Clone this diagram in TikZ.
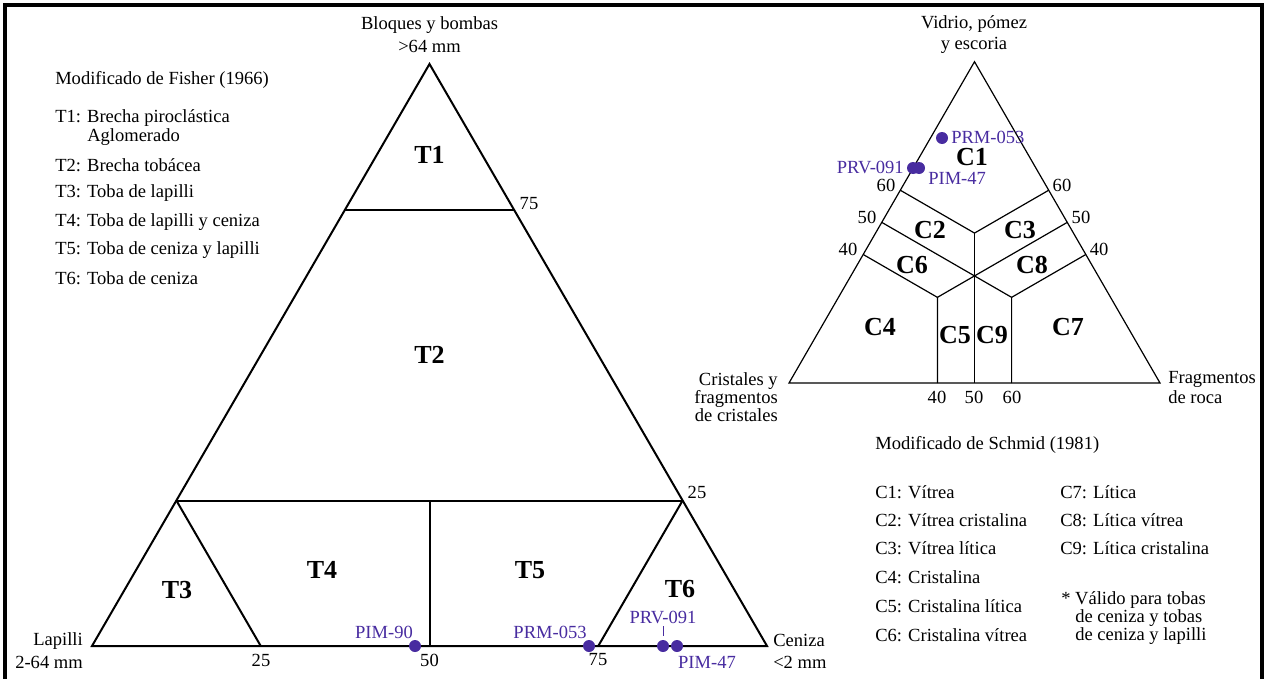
\documentclass[tikz,border=0pt]{standalone}
\usepackage{fontspec}
\setmainfont{Liberation Serif}
\usetikzlibrary{calc}
\definecolor{pur}{RGB}{72,44,160}
\begin{document}
\begin{tikzpicture}[x=0.75pt,y=-0.75pt,
  txt/.style={font=\fontsize{13.9}{14}\selectfont, inner sep=0pt},
  lab/.style={font=\bfseries\fontsize{19.5}{22}\selectfont, inner sep=0pt},
  dat/.style={txt, text=pur},
  dot/.style={circle, fill=pur, minimum size=9pt, inner sep=0pt},
  bigtri/.style={line width=1.5pt, line join=miter},
  smalltri/.style={line width=0.9pt, line join=miter}]
\useasboundingbox (0,0) rectangle (1266,678);
\draw[line width=2.4pt] (5,5) rectangle (1262,720);

% ---------- left triangle (Fisher) ----------
\coordinate (A) at (92,646);
\coordinate (B) at (767,646);
\coordinate (C) at (429.5,64);
\draw[bigtri] (A) -- (B) -- (C) -- cycle;
\coordinate (a75) at ($(A)!0.75!(C)$);
\coordinate (b75) at ($(B)!0.75!(C)$);
\coordinate (a25) at ($(A)!0.25!(C)$);
\coordinate (b25) at ($(B)!0.25!(C)$);
\coordinate (m25) at ($(A)!0.25!(B)$);
\coordinate (m50) at ($(A)!0.50!(B)$);
\coordinate (m75) at ($(A)!0.75!(B)$);
\coordinate (c25) at ($(a25)!0.5!(b25)$);
\draw[bigtri] (a75) -- (b75);
\draw[bigtri] (a25) -- (b25);
\draw[bigtri] (a25) -- (m25);
\draw[bigtri] (b25) -- (m75);
\draw[bigtri] (c25) -- (m50);

\node[txt] (tb1) at (429.5,25) {Bloques y bombas};
\node[txt] (tb2) at (429.5,46) {>64 mm};
\node[txt, anchor=east] (tl1) at (83,641) {Lapilli};
\node[txt, anchor=east] (tl2) at (83,662) {2-64 mm};
\node[txt, anchor=west] (tc1) at (773,640) {Ceniza};
\node[txt, anchor=west] (tc2) at (773,662) {<2 mm};
\node[txt] (n75a) at (529,204) {75};
\node[txt] (n25a) at (697,492) {25};
\node[txt] (n25b) at (261,660) {25};
\node[txt] (n50b) at (429.5,660) {50};
\node[txt] (n75b) at (598,660) {75};

\node[lab] (T1) at (429.5,155) {T1};
\node[lab] (T2) at (429.5,355) {T2};
\node[lab] (T3) at (177,590) {T3};
\node[lab] (T4) at (322,570) {T4};
\node[lab] (T5) at (530,570) {T5};
\node[lab] (T6) at (680,589) {T6};

\node[dot] (d1) at (415,646) {};
\node[dot] (d2) at (589,646) {};
\node[dot] (d3) at (663,646) {};
\node[dot] (d4) at (677,646) {};
\node[dat] (l1) at (384,632) {PIM-90};
\node[dat] (l2) at (550,632) {PRM-053};
\node[dat] (l3) at (663,617) {PRV-091};
\node[dat] (l4) at (707,662) {PIM-47};
\draw[pur, line width=0.6pt] ([yshift=-2pt]l3.south) -- ([yshift=3pt]d3.north);

% legend left
\node[txt, anchor=west] (fl0) at (55,80) {Modificado de Fisher (1966)};
\node[txt, anchor=west] (fl1) at (55,118) {T1: Brecha piroclástica};
\node[txt, anchor=west] (fl1b) at (87,137) {Aglomerado};
\node[txt, anchor=west] (fl2) at (55,165) {T2: Brecha tobácea};
\node[txt, anchor=west] (fl3) at (55,193) {T3: Toba de lapilli};
\node[txt, anchor=west] (fl4) at (55,222) {T4: Toba de lapilli y ceniza};
\node[txt, anchor=west] (fl5) at (55,250) {T5: Toba de ceniza y lapilli};
\node[txt, anchor=west] (fl6) at (55,278) {T6: Toba de ceniza};

% ---------- right triangle (Schmid) ----------
\begin{scope}[shift={(789,383)}, x={(278.25pt,0pt)}, y={(0pt,278.25pt)}]
\coordinate (P) at (0,0);
\coordinate (Q) at (1,0);
\coordinate (R) at (0.5,0.8660);
\coordinate (L60) at (0.30,0.5196);
\coordinate (L50) at (0.25,0.4330);
\coordinate (L40) at (0.20,0.3464);
\coordinate (R60) at (0.70,0.5196);
\coordinate (R50) at (0.75,0.4330);
\coordinate (R40) at (0.80,0.3464);
\coordinate (K) at (0.5,0.4041);
\coordinate (U4) at (0.4,0.2309);
\coordinate (U6) at (0.6,0.2309);
\coordinate (B4) at (0.4,0);
\coordinate (B5) at (0.5,0);
\coordinate (B6) at (0.6,0);
\draw[smalltri] (P) -- (Q) -- (R) -- cycle;
\draw[smalltri] (L60) -- (K) -- (R60);
\draw[smalltri] (K) -- (B5);
\draw[smalltri] (L50) -- (U6) -- (B6);
\draw[smalltri] (R50) -- (U4) -- (B4);
\draw[smalltri] (L40) -- (U4);
\draw[smalltri] (R40) -- (U6);
\end{scope}

\node[txt] (tv1) at (974,24) {Vidrio, pómez};
\node[txt] (tv2) at (974,45) {y escoria};
\node[txt, anchor=east, align=right, font=\fontsize{13.9}{13.5}\selectfont] (tcr) at (778,397) {Cristales y\\fragmentos\\de cristales};
\node[txt, anchor=west, align=left, font=\fontsize{13.9}{15}\selectfont] (tfr) at (1168,388) {Fragmentos\\de roca};

\node[txt] (r60l) at (886,185) {60};
\node[txt] (r50l) at (867,217) {50};
\node[txt] (r40l) at (848,249) {40};
\node[txt] (r60r) at (1062,185) {60};
\node[txt] (r50r) at (1081,217) {50};
\node[txt] (r40r) at (1099,249) {40};
\node[txt] (r40b) at (937,397) {40};
\node[txt] (r50b) at (974,397) {50};
\node[txt] (r60b) at (1012,397) {60};

\node[lab] (C1) at (972,157.5) {C1};
\node[lab] (C2) at (930,230) {C2};
\node[lab] (C3) at (1020,230) {C3};
\node[lab] (C6) at (912,265) {C6};
\node[lab] (C8) at (1032,265) {C8};
\node[lab] (C4) at (880,327) {C4};
\node[lab] (C5) at (955,335) {C5};
\node[lab] (C9) at (992,335) {C9};
\node[lab] (C7) at (1068,327) {C7};

\node[dot] (e1) at (942,138) {};
\node[dot] (e2) at (913,168) {};
\node[dot] (e3) at (919,168) {};
\node[dat, anchor=west] (k1) at (951,137) {PRM-053};
\node[dat, anchor=east] (k2) at (904,167) {PRV-091};
\node[dat, anchor=west] (k3) at (928,178) {PIM-47};

% legend right
\node[txt, anchor=west] (sl0) at (875,445) {Modificado de Schmid (1981)};
\node[txt, anchor=west] (s1) at (875,492) {C1: Vítrea};
\node[txt, anchor=west] (s2) at (875,520) {C2: Vítrea cristalina};
\node[txt, anchor=west] (s3) at (875,548) {C3: Vítrea lítica};
\node[txt, anchor=west] (s4) at (875,577) {C4: Cristalina};
\node[txt, anchor=west] (s5) at (875,606) {C5: Cristalina lítica};
\node[txt, anchor=west] (s6) at (875,635) {C6: Cristalina vítrea};
\node[txt, anchor=west] (s7) at (1060,492) {C7: Lítica};
\node[txt, anchor=west] (s8) at (1060,520) {C8: Lítica vítrea};
\node[txt, anchor=west] (s9) at (1060,548) {C9: Lítica cristalina};
\node[txt, anchor=west] (sn1) at (1061,600) {* Válido para tobas};
\node[txt, anchor=west] (sn2) at (1075,618) {de ceniza y tobas};
\node[txt, anchor=west] (sn3) at (1075,636) {de ceniza y lapilli};
\end{tikzpicture}
\end{document}
